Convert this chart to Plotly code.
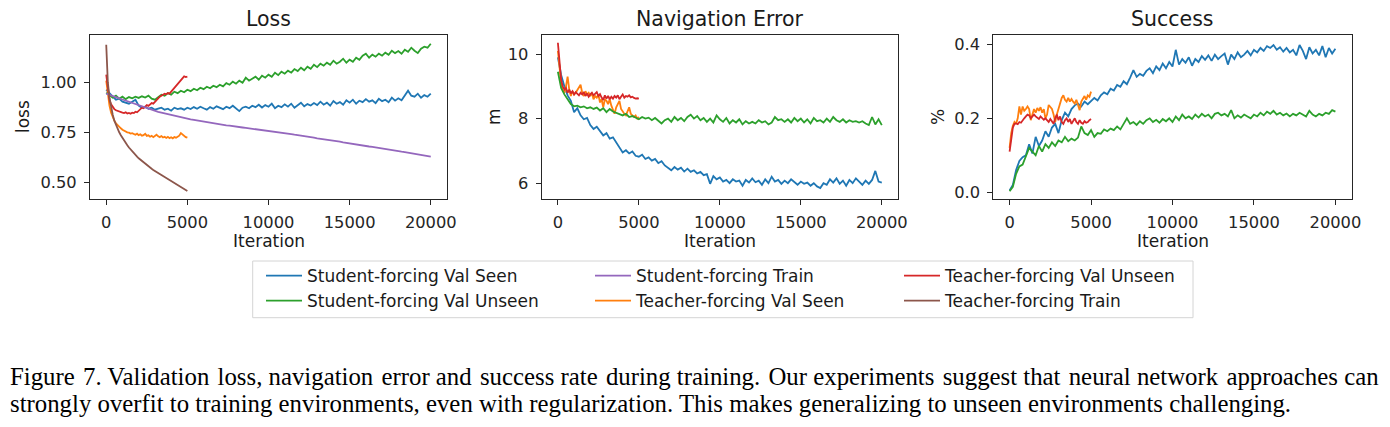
import plotly.graph_objects as go

W, H = 1390, 427
OFF = 8  # browser body margin

# iterations
sf_iter = list(range(0, 20001, 200))
tf_iter = list(range(0, 5001, 100))

# ---- Loss ----
loss_sf_seen = [
    0.965, 0.945, 0.93, 0.915, 0.92, 0.905, 0.90, 0.895, 0.905, 0.915,
    0.885, 0.875, 0.88, 0.87, 0.875, 0.865, 0.87, 0.875, 0.865, 0.87,
    0.86, 0.875, 0.868, 0.872, 0.865, 0.875, 0.868, 0.878, 0.87, 0.88,
    0.872, 0.865, 0.878, 0.87, 0.882, 0.875, 0.868, 0.88, 0.873, 0.885,
    0.87, 0.858, 0.875, 0.88, 0.872, 0.885, 0.878, 0.89, 0.876, 0.888,
    0.88, 0.895, 0.872, 0.885, 0.878, 0.892, 0.88, 0.895, 0.875, 0.888,
    0.9, 0.882, 0.893, 0.886, 0.898, 0.888, 0.905, 0.89, 0.9, 0.885,
    0.908, 0.895, 0.903, 0.89, 0.912, 0.9, 0.915, 0.895, 0.91, 0.903,
    0.918, 0.905, 0.912, 0.898, 0.92, 0.908, 0.915, 0.902, 0.925, 0.91,
    0.922, 0.912, 0.935, 0.96, 0.935, 0.93, 0.945, 0.925, 0.938, 0.93,
    0.945,
]
loss_sf_unseen = [
    0.95, 0.935, 0.925, 0.935, 0.92, 0.93, 0.918, 0.928, 0.922, 0.93,
    0.924, 0.932, 0.926, 0.935, 0.92, 0.915, 0.93, 0.94, 0.935, 0.948,
    0.94, 0.955, 0.948, 0.96, 0.952, 0.965, 0.958, 0.97, 0.962, 0.975,
    0.968, 0.98, 0.972, 0.985, 0.978, 0.99, 0.982, 0.998, 0.99, 1.005,
    0.995, 1.01, 1.0, 1.025, 1.01, 1.02, 1.03, 1.015, 1.035, 1.025,
    1.04, 1.03, 1.05, 1.038, 1.055, 1.045, 1.06, 1.05, 1.068, 1.058,
    1.075, 1.062, 1.08, 1.07, 1.09, 1.078, 1.095, 1.085, 1.1, 1.09,
    1.11, 1.095, 1.105, 1.12, 1.1, 1.115, 1.105, 1.125, 1.115, 1.135,
    1.145, 1.125, 1.14, 1.13, 1.145, 1.135, 1.15, 1.14, 1.16, 1.148,
    1.158, 1.145, 1.165, 1.155, 1.175, 1.16, 1.148, 1.17, 1.18, 1.175,
    1.195,
]
loss_sf_train = [
    0.945, 0.94, 0.934, 0.928, 0.922, 0.916, 0.91, 0.904, 0.898, 0.892,
    0.886, 0.88, 0.875, 0.869, 0.864, 0.858, 0.854, 0.85, 0.846, 0.842,
    0.838, 0.834, 0.831, 0.827, 0.824, 0.82, 0.817, 0.814, 0.811, 0.808,
    0.805, 0.802, 0.80, 0.797, 0.795, 0.792, 0.79, 0.787, 0.785, 0.782,
    0.78, 0.778, 0.776, 0.774, 0.772, 0.77, 0.768, 0.766, 0.764, 0.762,
    0.76, 0.757, 0.755, 0.753, 0.75, 0.748, 0.745, 0.743, 0.74, 0.738,
    0.735, 0.732, 0.73, 0.727, 0.725, 0.722, 0.72, 0.717, 0.715, 0.712,
    0.71, 0.707, 0.705, 0.702, 0.699, 0.697, 0.694, 0.692, 0.689, 0.687,
    0.684, 0.681, 0.679, 0.676, 0.674, 0.671, 0.668, 0.666, 0.663, 0.661,
    0.658, 0.655, 0.653, 0.65, 0.648, 0.645, 0.642, 0.639, 0.636, 0.633,
    0.63,
]
loss_tf_seen = [
    1.01, 0.93, 0.885, 0.85, 0.828, 0.81, 0.797, 0.787, 0.778, 0.772,
    0.765, 0.76, 0.757, 0.752, 0.75, 0.746, 0.748, 0.742, 0.74, 0.745,
    0.738, 0.742, 0.735, 0.738, 0.745, 0.734, 0.737, 0.73, 0.734, 0.728,
    0.735, 0.74, 0.732, 0.728, 0.733, 0.726, 0.73, 0.724, 0.729, 0.723,
    0.727, 0.722, 0.728, 0.725, 0.73, 0.735, 0.748, 0.74, 0.735, 0.728,
    0.725,
]
loss_tf_unseen = [
    1.04, 0.96, 0.915, 0.892, 0.878, 0.868, 0.862, 0.858, 0.855, 0.852,
    0.85, 0.848, 0.852, 0.846, 0.849, 0.845, 0.85, 0.848, 0.855, 0.852,
    0.86, 0.868, 0.875, 0.872, 0.882, 0.888, 0.884, 0.892, 0.898, 0.895,
    0.905, 0.915, 0.92, 0.93, 0.935, 0.942, 0.945, 0.942, 0.948, 0.945,
    0.955, 0.962, 0.97, 0.98, 0.99, 1.0, 1.012, 1.02, 1.032, 1.028,
    1.03,
]
loss_tf_train = [
    1.19, 1.0, 0.925, 0.875, 0.84, 0.81, 0.788, 0.768, 0.752, 0.737,
    0.723, 0.71, 0.698, 0.687, 0.676, 0.666, 0.657, 0.648, 0.639, 0.63,
    0.622, 0.615, 0.608, 0.601, 0.594, 0.588, 0.582, 0.576, 0.57, 0.564,
    0.558, 0.553, 0.548, 0.543, 0.538, 0.533, 0.528, 0.523, 0.518, 0.513,
    0.508, 0.503, 0.498, 0.494, 0.489, 0.484, 0.479, 0.474, 0.469, 0.464,
    0.459,
]

# ---- Navigation error ----
nav_sf_seen = [
    9.9, 9.35, 9.0, 8.72, 8.55, 8.2, 8.32, 8.1, 7.98, 8.02,
    7.8, 7.68, 7.75, 7.6, 7.48, 7.55, 7.38, 7.42, 7.25, 7.1,
    6.95, 7.02, 6.92, 6.98, 6.85, 6.82, 6.88, 6.75, 6.8, 6.7,
    6.75, 6.62, 6.68, 6.55, 6.48, 6.4, 6.5, 6.42, 6.48, 6.36,
    6.45, 6.35, 6.4, 6.3, 6.35, 6.25, 6.28, 5.98, 6.22, 6.12,
    6.18, 6.05, 6.1, 6.0, 6.12, 6.05, 6.08, 5.92, 6.1, 6.02,
    6.15, 6.03, 6.08, 5.95, 6.12, 6.0, 6.2, 6.05, 6.1, 5.98,
    6.08, 6.0, 6.12, 6.02, 5.95, 6.05, 5.98, 6.02, 5.92, 6.0,
    5.9, 5.85, 6.0, 5.95, 6.12, 6.02, 6.15, 5.98, 6.08, 5.92,
    6.1, 6.0, 6.15, 6.05, 5.95, 6.08, 5.98, 6.1, 6.38, 6.05,
    6.02,
]
nav_sf_unseen = [
    9.45, 8.95, 8.75, 8.6, 8.45, 8.38, 8.4, 8.35, 8.38, 8.32,
    8.35, 8.3, 8.34, 8.25, 8.32, 8.2, 8.3, 8.22, 8.18, 8.15,
    8.1, 8.15, 8.05, 8.08, 8.02, 7.98, 8.05, 8.0, 8.03, 7.95,
    8.02, 7.92, 7.85, 7.95, 8.0, 7.9, 8.05, 7.95, 8.02, 7.92,
    8.05, 8.12, 8.0, 8.08, 7.95, 8.02, 7.9, 8.0, 7.88, 8.1,
    7.98, 7.9, 8.02, 7.85, 7.95, 7.88, 7.98, 7.82, 7.92, 7.85,
    7.9, 7.85, 7.95, 7.88, 7.92, 7.82, 7.88, 8.05, 7.95, 7.98,
    7.9, 7.98, 7.88, 8.02, 7.92, 8.0, 7.88, 7.98, 7.85, 8.02,
    7.92, 7.95, 7.88, 8.0, 7.9, 8.05, 7.95, 7.9, 7.98, 7.88,
    7.95, 7.9, 7.92, 7.88, 7.92, 7.85, 7.8, 8.05, 7.82, 7.98,
    7.8,
]
nav_tf_seen = [
    10.1, 9.5, 9.1, 8.9, 8.8, 9.0, 9.3, 8.9, 8.7, 8.85,
    8.75, 8.8, 8.9, 8.95, 9.05, 8.8, 8.7, 8.85, 8.75, 8.8,
    8.7, 8.8, 8.6, 8.7, 8.65, 8.75, 8.5, 8.6, 8.35, 8.6,
    8.55, 8.45, 8.6, 8.4, 8.3, 8.15, 8.35, 8.45, 8.55, 8.3,
    8.2, 8.15, 8.1, 8.25, 8.35, 8.15, 8.1, 8.05, 8.1, 8.0,
    8.05,
]
nav_tf_unseen = [
    10.35, 9.6, 9.2, 9.0, 8.9, 8.95, 8.8, 8.9, 8.78, 8.85,
    8.75, 8.82, 8.78, 8.72, 8.8, 8.75, 8.82, 8.7, 8.78, 8.68,
    8.75, 8.8, 8.72, 8.78, 8.82, 8.7, 8.76, 8.65, 8.58, 8.72,
    8.62, 8.7, 8.6, 8.68, 8.62, 8.7, 8.65, 8.72, 8.6, 8.68,
    8.75, 8.65, 8.7, 8.68, 8.72, 8.66, 8.68, 8.64, 8.62, 8.63,
    8.62,
]

# ---- Success ----
succ_sf_seen = [
    0.005, 0.02, 0.06, 0.085, 0.095, 0.1, 0.13, 0.105, 0.15, 0.125,
    0.14, 0.165, 0.15, 0.175, 0.185, 0.16, 0.195, 0.215, 0.205, 0.225,
    0.235, 0.24, 0.232, 0.245, 0.238, 0.248, 0.255, 0.248, 0.262, 0.27,
    0.265, 0.28, 0.275, 0.29, 0.285, 0.3, 0.292, 0.31, 0.33, 0.312,
    0.32, 0.315, 0.328, 0.335, 0.322, 0.34, 0.33, 0.348, 0.335, 0.352,
    0.34, 0.385, 0.345, 0.36, 0.35, 0.365, 0.342, 0.36, 0.352, 0.368,
    0.358, 0.37, 0.355, 0.372, 0.36, 0.368, 0.375, 0.345, 0.372, 0.36,
    0.378, 0.365, 0.372, 0.382, 0.37, 0.385, 0.378, 0.39, 0.382, 0.395,
    0.39, 0.398, 0.385, 0.392, 0.38, 0.39, 0.378, 0.385, 0.37, 0.398,
    0.382, 0.36, 0.392, 0.375, 0.385, 0.37, 0.395, 0.365, 0.39, 0.375,
    0.388,
]
succ_sf_unseen = [
    0.003, 0.015, 0.05, 0.07, 0.075, 0.095, 0.12, 0.11, 0.1, 0.125,
    0.11, 0.13, 0.12, 0.135, 0.125, 0.14, 0.135, 0.15, 0.138, 0.145,
    0.14, 0.148, 0.178, 0.16, 0.155, 0.168, 0.15, 0.16, 0.158, 0.17,
    0.165, 0.172, 0.168, 0.178, 0.17, 0.185, 0.2, 0.185, 0.19, 0.182,
    0.192, 0.185, 0.195, 0.2, 0.19, 0.196, 0.188, 0.198, 0.192, 0.2,
    0.19, 0.205, 0.195, 0.21, 0.2, 0.205, 0.198, 0.21, 0.202, 0.212,
    0.205, 0.21, 0.2, 0.212, 0.215, 0.208, 0.212, 0.205, 0.222, 0.2,
    0.208, 0.202, 0.21, 0.205, 0.2, 0.21, 0.205, 0.215, 0.208, 0.218,
    0.212, 0.22, 0.21, 0.215, 0.208, 0.213, 0.205, 0.212, 0.208, 0.215,
    0.21, 0.205, 0.22, 0.21, 0.205, 0.212, 0.208, 0.215, 0.212, 0.222,
    0.218,
]
succ_tf_seen = [
    0.12, 0.16, 0.18, 0.19, 0.185, 0.2, 0.232, 0.21, 0.232, 0.22,
    0.225, 0.232, 0.225, 0.195, 0.21, 0.225, 0.215, 0.228, 0.22, 0.23,
    0.215, 0.225, 0.2, 0.21, 0.236, 0.23, 0.225, 0.21, 0.19, 0.21,
    0.225, 0.24, 0.255, 0.262, 0.25, 0.245, 0.255, 0.245, 0.252, 0.245,
    0.24, 0.25, 0.235, 0.222, 0.245, 0.255, 0.26, 0.25, 0.262, 0.258,
    0.272,
]
succ_tf_unseen = [
    0.11, 0.15, 0.175, 0.185, 0.186, 0.184, 0.19, 0.188, 0.195, 0.2,
    0.205, 0.21, 0.208, 0.2, 0.205, 0.21, 0.205, 0.2, 0.198, 0.205,
    0.2, 0.196, 0.2, 0.195, 0.19, 0.198, 0.192, 0.185, 0.2, 0.21,
    0.195, 0.205, 0.19, 0.185, 0.195, 0.2, 0.19, 0.198, 0.185, 0.192,
    0.2, 0.19, 0.185, 0.195, 0.188, 0.185, 0.192, 0.188, 0.19, 0.195,
    0.198,
]

names = {
    "sf_seen": "Student-forcing Val Seen",
    "sf_unseen": "Student-forcing Val Unseen",
    "sf_train": "Student-forcing Train",
    "tf_seen": "Teacher-forcing Val Seen",
    "tf_unseen": "Teacher-forcing Val Unseen",
    "tf_train": "Teacher-forcing Train",
}
colors = {
    "sf_seen": "#1f77b4", "tf_seen": "#ff7f0e", "sf_unseen": "#2ca02c",
    "tf_unseen": "#d62728", "sf_train": "#9467bd", "tf_train": "#8c564b",
}
# which legend column / row each series goes to
legend_slot = {
    "sf_seen": ("legend", 1), "sf_unseen": ("legend", 2),
    "sf_train": ("legend2", 1), "tf_seen": ("legend2", 2),
    "tf_unseen": ("legend3", 1), "tf_train": ("legend3", 2),
}

panels = [
    ("x", "y", {
        "sf_seen": loss_sf_seen, "tf_seen": loss_tf_seen,
        "sf_unseen": loss_sf_unseen, "tf_unseen": loss_tf_unseen,
        "sf_train": loss_sf_train, "tf_train": loss_tf_train,
    }),
    ("x2", "y2", {
        "sf_seen": nav_sf_seen, "tf_seen": nav_tf_seen,
        "sf_unseen": nav_sf_unseen, "tf_unseen": nav_tf_unseen,
    }),
    ("x3", "y3", {
        "sf_seen": succ_sf_seen, "tf_seen": succ_tf_seen,
        "sf_unseen": succ_sf_unseen, "tf_unseen": succ_tf_unseen,
    }),
]


def px_x(v):
    return (v - OFF) / W


def px_y(v):
    return 1 - (v - OFF) / H


fig = go.Figure()
for i, (xa, ya, series) in enumerate(panels):
    for key, vals in series.items():
        iters = sf_iter if key.startswith("sf") else tf_iter
        leg, rank = legend_slot[key]
        fig.add_trace(go.Scatter(
            x=iters, y=vals, mode="lines", name=names[key],
            line=dict(color=colors[key], width=1.8),
            xaxis=xa, yaxis=ya, showlegend=(i == 0),
            legend=leg, legendrank=rank,
        ))

tick_font = dict(family="DejaVu Sans", size=16.3, color="#262626")
axis_common = dict(
    showgrid=False, zeroline=False, showline=True, mirror=True,
    linecolor="#262626", linewidth=1, ticks="outside", ticklen=5,
    tickwidth=1, tickcolor="#262626", tickfont=tick_font, automargin=False,
)

boxes = [(90, 447), (541.7, 898), (993.3, 1351.7)]
y_dom = [px_y(199), px_y(35)]
y_setup = [
    dict(range=[0.4185, 1.2385], tickvals=[0.5, 0.75, 1.0], tickformat=".2f"),
    dict(range=[5.51, 10.59], tickvals=[6, 8, 10], tickformat="d"),
    dict(range=[-0.018, 0.425], tickvals=[0.0, 0.2, 0.4], tickformat=".1f"),
]
layout_axes = {}
for i, ((l, r), ys) in enumerate(zip(boxes, y_setup)):
    sfx = "" if i == 0 else str(i + 1)
    layout_axes["xaxis" + sfx] = dict(
        axis_common, domain=[px_x(l), px_x(r)], range=[-1000, 21000],
        tickvals=[0, 5000, 10000, 15000, 20000], tickformat="d",
        anchor="y" + sfx, ticklabelstandoff=3,
    )
    layout_axes["yaxis" + sfx] = dict(
        axis_common, domain=y_dom, anchor="x" + sfx, ticklabelstandoff=4, **ys
    )

titles = ["Loss", "Navigation Error", "Success"]
ylabels = [("loss", 23), ("m", 494), ("%", 938)]
annotations = []
for (l, r), t, (yl, yx) in zip(boxes, titles, ylabels):
    cx = (l + r) / 2
    annotations.append(dict(
        text=t, x=px_x(cx), y=px_y(19), xref="paper", yref="paper",
        showarrow=False, xanchor="center", yanchor="middle",
        font=dict(family="DejaVu Sans", size=20.5, color="#1a1a1a"),
    ))
    annotations.append(dict(
        text="Iteration", x=px_x(cx), y=px_y(241), xref="paper", yref="paper",
        showarrow=False, xanchor="center", yanchor="middle",
        font=dict(family="DejaVu Sans", size=17, color="#1a1a1a"),
    ))
    annotations.append(dict(
        text=yl, x=px_x(yx), y=px_y(117), xref="paper", yref="paper",
        showarrow=False, xanchor="center", yanchor="middle", textangle=-90,
        font=dict(family="DejaVu Sans", size=17, color="#1a1a1a"),
    ))

# first caption line is justified in the original: widen every other gap a little
line1_words = ("Figure 7. Validation loss, navigation error and success rate during "
               "training. Our experiments suggest that neural network approaches can").split(" ")
line1 = line1_words[0]
for k, w in enumerate(line1_words[1:]):
    line1 += (" \u200a" if k % 2 == 0 else " ") + w
caption = [
    (line1, 376),
    ("strongly overfit to training environments, even with regularization. "
     "This makes generalizing to unseen environments challenging.", 403),
]
for txt, yy in caption:
    annotations.append(dict(
        text=txt, x=px_x(8), y=px_y(yy), xref="paper", yref="paper",
        showarrow=False, xanchor="left", yanchor="middle",
        font=dict(family="Liberation Serif", size=24.8, color="#000000"),
    ))

legend_font = dict(family="DejaVu Sans", size=17, color="#1a1a1a")
legends = {}
for name, lx in [("legend", 261), ("legend2", 590), ("legend3", 899)]:
    legends[name] = dict(
        x=px_x(lx), y=px_y(258), xanchor="left", yanchor="top",
        orientation="v", font=legend_font, bgcolor="rgba(0,0,0,0)",
        borderwidth=0, itemwidth=36, tracegroupgap=0,
    )

fig.update_layout(
    width=W, height=H, margin=dict(l=0, r=0, t=0, b=0),
    paper_bgcolor="white", plot_bgcolor="white",
    annotations=annotations,
    shapes=[dict(
        type="rect", xref="paper", yref="paper",
        x0=px_x(252.7), x1=px_x(1193), y0=px_y(317.7), y1=px_y(261),
        line=dict(color="#d4d4d4", width=1),
    )],
    **layout_axes, **legends,
)

fig.write_html("out.html")
